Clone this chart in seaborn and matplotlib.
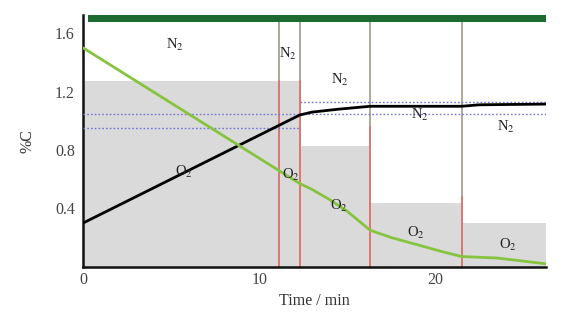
import numpy as np
import pandas as pd
import matplotlib
matplotlib.use("Agg")
import matplotlib.pyplot as plt
import seaborn as sns

# ---- data ----
black_t = [0, 12.3, 13.0, 14.5, 16.3, 21.5, 22.5, 26.3]
black_c = [0.30, 1.04, 1.06, 1.08, 1.10, 1.10, 1.11, 1.115]

green_t = [0, 12.3, 13.0, 14.0, 15.0, 15.7, 16.3, 17.5, 19.0, 20.5, 21.5, 23.5, 26.3]
green_c = [1.50, 0.57, 0.53, 0.46, 0.38, 0.31, 0.25, 0.20, 0.15, 0.10, 0.07, 0.06, 0.02]

step_edges = [0, 12.3, 16.3, 21.5, 26.3]
step_tops = [1.27, 0.83, 0.44, 0.30]

vlines_x = [11.1, 12.3, 16.3, 21.5]
vlines_red_top = [1.27, 1.27, 0.96, 0.48]

dotted_y = [1.05, 0.95, 1.13]
dotted_x0 = [0, 0, 12.3]
dotted_x1 = [26.3, 12.3, 26.3]

labels_txt = ["N$_2$", "N$_2$", "N$_2$", "N$_2$", "N$_2$",
              "O$_2$", "O$_2$", "O$_2$", "O$_2$", "O$_2$"]
labels_x = [5.2, 11.65, 14.6, 19.1, 24.0, 5.7, 11.8, 14.5, 18.9, 24.1]
labels_y = [1.52, 1.46, 1.28, 1.04, 0.96, 0.65, 0.63, 0.42, 0.23, 0.15]

xticks = [0, 10, 20]
yticks = [0.4, 0.8, 1.2, 1.6]

# ---- plot ----
sns.set_style("white")
plt.rcParams['font.family'] = ['Liberation Serif', 'DejaVu Serif']
plt.rcParams['mathtext.fontset'] = 'stix'

fig = plt.figure(figsize=(5.66, 3.21), dpi=100)
ax = fig.add_axes([0.147, 0.169, 0.818, 0.784])

XMAX = 26.3
YTOP = 1.725

# gray step regions
for i, top in enumerate(step_tops):
    ax.fill_between([step_edges[i], step_edges[i + 1]], 0, top,
                    color="#dadada", linewidth=0, zorder=1)

# vertical lines
for x, rt in zip(vlines_x, vlines_red_top):
    ax.plot([x, x], [0, 1.69], color="#9e9a86", lw=1.2, zorder=2)
    ax.plot([x, x], [0, rt], color="#e8706a", lw=1.2, zorder=2.1)

# dotted lines
for y, a, b in zip(dotted_y, dotted_x0, dotted_x1):
    ax.plot([a, b], [y, y], color="#7575d8", lw=1.0, ls=(0, (1.2, 1.5)), zorder=3)

df_b = pd.DataFrame({"t": black_t, "c": black_c})
df_g = pd.DataFrame({"t": green_t, "c": green_c})
sns.lineplot(data=df_b, x="t", y="c", color="black", lw=2.0, ax=ax, zorder=5)
sns.lineplot(data=df_g, x="t", y="c", color="#86c440", lw=2.0, ax=ax, zorder=5)

# top green bar
ax.fill_between([0.25, XMAX], 1.68, YTOP, color="#1c6b30", linewidth=0, zorder=6)

for s, x, y in zip(labels_txt, labels_x, labels_y):
    ax.text(x, y, s, fontsize=10.5, ha="center", va="center", color="#222222", zorder=7)

ax.set_xlim(0, XMAX)
ax.set_ylim(0, YTOP)
ax.set_xticks(xticks)
ax.set_yticks(yticks)
ax.set_xticklabels([str(v) for v in xticks])
ax.set_yticklabels([f"{v:.1f}" for v in yticks])
ax.tick_params(direction="in", length=4, width=1.2, labelsize=11.5, colors="#333333",
               labelcolor="#444444")
ax.tick_params(axis="y", pad=6)
for side in ["top", "right"]:
    ax.spines[side].set_visible(False)
for side in ["left", "bottom"]:
    ax.spines[side].set_color("#111111")
    ax.spines[side].set_linewidth(1.8)

ax.set_xlabel("Time / min", fontsize=11.5, color="#333333", labelpad=4)
ax.set_ylabel("%C", fontsize=11.5, color="#333333", labelpad=14)

fig.savefig("out.png", dpi=100)
